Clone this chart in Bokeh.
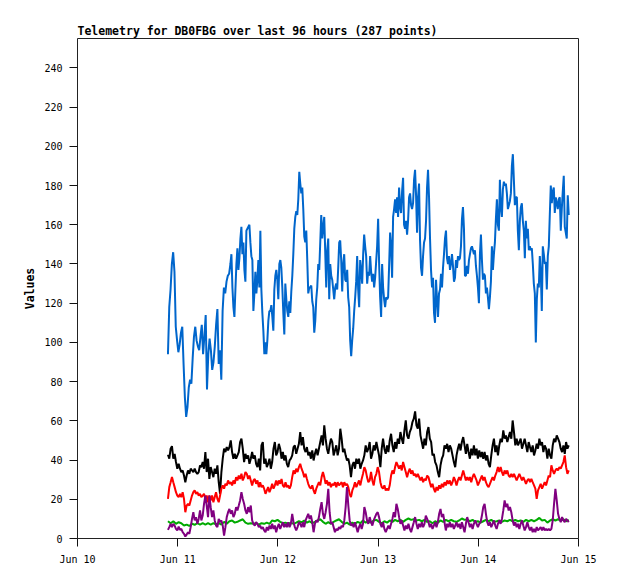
import numpy as np
from datetime import datetime, timedelta
from bokeh.plotting import figure
from bokeh.models import FixedTicker, DatetimeTickFormatter, Range1d
from bokeh.embed import file_html
from bokeh.resources import INLINE

TITLE = "Telemetry for DB0FBG over last 96 hours (287 points)"
Y_LABEL = "Values"
START = datetime(2024, 6, 10, 21, 40)
HOURS = 96
x_tick_dates = [datetime(2024, 6, d) for d in range(10, 16)]
y_ticks = list(range(0, 241, 20))

# blue series: first part read at ~19 min spacing, rest at ~14 min spacing
blue_a = [94, 118, 127, 140, 146, 136, 108, 101, 95, 99, 105, 108, 89, 72, 62, 67, 77, 81, 79, 92,
          103, 108, 101, 98, 96, 103, 109, 94, 103, 114, 76, 94, 102, 96, 86, 90, 98, 109, 117, 89,
          96, 81, 116, 128, 125, 131, 134, 135, 140]
blue_a_hours = (0.0, 14.96)
blue_b = [145, 128, 118, 113, 127, 140, 148, 137, 143, 153, 159, 145, 151, 137, 131, 157, 158, 159, 160, 151,
          144, 142, 116, 125, 136, 125, 132, 142, 128, 157, 127, 115, 106, 94, 100, 94, 101, 111, 116,
          116, 119, 113, 106, 127, 134, 137, 132, 122, 140, 142, 138, 128, 115, 104, 130, 122, 116, 113, 121,
          115, 126, 134, 145, 158, 164, 167, 165, 173, 187, 181, 176, 179, 168, 154, 151, 157, 142, 125, 128,
          128, 129, 121, 118, 105, 111, 122, 128, 140, 137, 151, 165, 153, 159, 164, 146, 128, 147, 153, 122,
          140, 134, 132, 127, 122, 128, 130, 127, 138, 151, 152, 142, 126, 140, 145, 132, 131, 137, 123, 118,
          101, 93, 101, 107, 116, 123, 131, 144, 127, 118, 142, 137, 130, 145, 155, 149, 144, 130, 136, 134,
          144, 136, 131, 135, 128, 133, 141, 149, 163, 140, 123, 113, 140, 128, 122, 118, 123, 122, 123, 139,
          156, 149, 133, 164, 168, 173, 166, 174, 164, 179, 169, 166, 177, 184, 160, 158, 162, 155, 162, 174,
          176, 170, 168, 171, 183, 188, 175, 156, 174, 181, 152, 138, 134, 144, 151, 153, 162, 179, 188, 174,
          153, 137, 128, 133, 115, 110, 132, 122, 113, 125, 127, 135, 128, 138, 145, 153, 157, 143, 140, 144,
          137, 140, 145, 139, 131, 133, 142, 138, 144, 142, 143, 149, 163, 169, 158, 134, 134, 139, 135, 142,
          145, 148, 149, 147, 145, 147, 139, 134, 128, 120, 145, 155, 142, 132, 135, 134, 125, 128, 123, 117,
          123, 131, 149, 137, 145, 151, 163, 173, 160, 157, 183, 169, 164, 178, 182, 180, 181, 176, 168, 170,
          172, 176, 190, 196, 183, 170, 174, 174, 157, 147, 162, 169, 171, 162, 157, 143, 162, 153, 158, 147,
          149, 147, 148, 140, 130, 125, 100, 122, 130, 128, 144, 135, 116, 149, 145, 140, 141, 127, 144, 149,
          165, 180, 171, 177, 179, 166, 174, 171, 168, 173, 174, 157, 168, 177, 185, 159, 156, 153, 175, 165]
blue_b_hours = (15.2, 96.0)

black = [42.7, 40.7, 45.8, 47.1, 40.7, 43.2, 39, 35.6, 38.1, 35.6, 33.9, 34.7, 32.1, 28.7, 32.1, 34.7, 33, 35.6,
         34.7, 33.9, 35.6, 33.9, 33, 33.9, 37.3, 36.4, 39, 35.6, 44.1, 33.9, 40.7, 30.4, 36.4, 33.9, 31.3, 35.6,
         33, 37.3, 28.7, 22.8, 33.9, 40.7, 45.8, 44.1, 46.6, 44.9, 46.6, 50, 44.1, 40.7, 43.2, 40.7, 42.4, 44.1,
         49.2, 50.9, 45.8, 39, 43.2, 40.7, 42.4, 38.1, 40.7, 44.1, 40.7, 42.4, 38.1, 36.4, 40.7, 34.7, 47.5, 49.2,
         38.1, 40.7, 36.4, 38.1, 40.7, 35.6, 39, 45.8, 49.2, 42.4, 44.1, 48.3, 45.8, 40.7, 44.1, 39.8, 42.4, 38.1,
         36.4, 39.8, 40.7, 42.4, 46.6, 47.5, 43.2, 45.8, 48.3, 54.3, 47.5, 51.7, 45.8, 44.1, 46.6, 42.4, 44.1, 40.7,
         44.9, 39.8, 43.2, 45.8, 42.4, 45.8, 49.2, 52.6, 47.5, 57.7, 50.9, 45.8, 43.2, 47.5, 50.9, 49.2, 42.4, 44.9,
         47.5, 42.4, 45.8, 56, 50.9, 44.1, 45.8, 42.4, 39.8, 40.7, 37.3, 31.3, 37.3, 39, 35.6, 40.7, 38.1, 40.7,
         35.6, 38.1, 39.8, 42.4, 47.5, 44.1, 45.8, 49.2,
         40.7, 43.2, 47.5, 44.9, 49.2, 45.8, 42.4, 36.4, 45.8, 50.9, 45.8, 43.2, 47.5, 44.1, 50, 53.4, 47.5, 44.1,
         49.2, 45.8, 50.9, 48.3, 54.3, 50.9, 48.3, 55.1, 60.2, 52.6, 50.9, 54.3, 56, 59.4, 61.1, 64.8, 57.7, 56,
         61.1, 52.6, 49.2, 45.8, 50.9, 47.5, 54.3, 56.8, 50.9, 49.2, 42.4, 43.2, 39, 37.3, 33.9, 31.3, 37.3, 40.7,
         42.4, 47.5, 45.8, 48.3, 44.1, 47.5, 45.8, 42.4, 39, 36.4, 42.4, 45.8, 48.3, 44.9, 49.2, 51.7, 47.5, 43.2,
         48.3, 44.1, 40.7, 45.8, 42.4, 47.5, 42.4, 45.8, 40.7, 44.9, 41.5, 44.1, 40.7, 44.1, 39.8, 42.4, 38.1, 36.4,
         42.4, 47.5, 50.9, 44.1, 47.5, 42.4, 47.5, 50.9, 49.2, 55.1, 50.9, 52.6, 49.2, 51.7, 54.3, 50.9, 60.2, 54.3,
         47.5, 50.9, 47.5, 49.2, 50.9, 45.8, 48.3, 50.9, 47.5, 44.1, 49.2, 46.6, 44.1, 47.5, 42.4, 44.9, 48.3, 45.8,
         50.9, 47.5, 49.2, 44.1, 47.5, 45.8, 40.7, 45.8, 42.4, 40.7, 47.5, 50.9, 49.2, 52.6, 50.9, 49.2, 45.8, 44.1,
         47.5, 43.2, 49.2, 45.8, 47.5]

red = [20.2, 26.2, 28.7, 31.3, 28.7, 26.2, 23.6, 21.9, 21.1, 22.8, 21.1, 23.6, 20.2, 13.4, 16.8, 17.7, 16.8, 19.4,
       21.9, 23.6, 24.5, 22.8, 23.6, 21.9, 22.8, 21.1, 21.9, 22.8, 20.2, 21.9, 18.5, 21.9, 19.4, 21.9, 18.5, 21.1,
       23.6, 20.2, 18.5, 21.9, 25.4, 27.1, 25.4, 27.9, 27.1, 29.6, 27.9, 28.7, 27.1, 29.6, 27.9, 31.3, 29.6, 32.1,
       30.4, 33, 29.6, 31.3, 33.9, 33, 30.4, 32.1, 29.6, 27.1, 29.6, 30.4, 27.9, 29.6, 26.2, 28.7, 26.2, 27.1,
       25.4, 22.8, 24.5, 26.2, 23.6, 25.4, 27.9, 25.4, 27.1, 29.6, 27.1, 29.6, 27.9, 30.4, 27.1, 26.2, 28.7, 26.2,
       27.1, 25.4, 27.1, 31.3, 34.7, 33, 35.6, 33.9, 36.4, 38.1, 35.6, 33.9, 31.3, 33, 30.4, 27.9, 26.2, 25.4,
       27.1, 24.5, 22.8, 25.4, 27.1, 28.7, 27.1, 31.3, 33.9, 31.3, 27.9, 29.6, 27.1, 28.7, 26.2, 27.9, 27.1, 28.7,
       26.2, 28.7, 27.1, 27.9, 28.7, 26.2, 28.7, 27.1, 27.9, 26.2, 22.8, 21.1, 24.5, 26.2, 28.7, 26.2, 27.9, 29.6,
       27.1, 30.4, 33, 36.4, 34.7, 31.3, 28.7,
       29.6, 33.9, 29.6, 27.1, 31.3, 33, 36.4, 33.9, 28.7, 26.2, 25.4, 27.1, 24.5, 25.4, 24.5, 27.1, 32.1, 34.7,
       33, 36.4, 39, 37.3, 35.6, 37.3, 34.7, 39, 36.4, 33.9, 31.3, 33.9, 35.6, 33, 34.7, 32.1, 33, 31.3, 33, 31.3,
       29.6, 31.3, 28.7, 30.4, 29.6, 32.1, 31.3, 28.7, 26.2, 27.9, 25.4, 23.6, 26.2, 24.5, 27.1, 25.4, 27.9, 26.2,
       28.7, 27.1, 29.6, 27.9, 29.6, 27.1, 28.7, 31.3, 29.6, 27.1, 29.6, 31.3, 29.6, 32.1, 34.7, 32.1, 29.6, 31.3,
       29.6, 31.3, 28.7, 31.3, 33, 31.3, 29.6, 27.1, 28.7, 30.4, 32.1, 29.6, 31.3, 28.7, 27.1, 26.2, 27.9, 29.6,
       31.3, 29.6, 32.1, 33.9, 36.4, 33.9, 36.4, 33.9, 32.1, 34.7, 33, 34.7, 32.1, 31.3, 33, 31.3, 33, 31.3, 29.6,
       31.3, 33, 31.3, 29.6, 31.3, 29.6, 27.9, 29.6, 30.4, 28.7, 30.4, 28.7, 27.1, 25.4, 20.2, 24.5, 26.2, 27.9,
       25.4, 27.1, 28.7, 27.1, 29.6, 32.1, 31.3, 37.3, 34.7, 33, 34.7, 35.6, 34.7, 36.4, 35.6, 37.3, 39, 42.4,
       36.4, 33, 34.7]

green = [8.8, 7.8, 8.8, 7.5, 8.3, 7.8, 6.6, 7.1, 6.4, 7.5, 7.0, 7.8, 7.1, 7.8, 7.1, 7.8, 7.1, 7.8, 7.3, 7.8,
         7.1, 8.5, 7.5, 8.8, 9.2, 8.1, 8.5, 9.2, 9.8, 8.1, 7.5, 7.8, 7.5, 7.8, 7.1, 7.8, 7.5, 8.1, 7.5, 9.2,
         8.8, 9.5, 8.5, 7.8, 8.1, 7.5, 8.1, 7.5, 8.1, 8.8, 8.3, 9.2, 8.1, 8.8, 7.8, 8.5, 9.2, 9.8, 8.5, 7.5,
         8.3, 7.5, 8.5, 9.2, 9.8, 8.5, 7.5, 8.1, 7.1, 8.1, 7.5, 8.5, 7.8, 9.2, 8.1, 8.8,
         8.1, 9.2, 9.5, 8.5, 7.8, 8.8, 8.1, 9.2, 8.5, 9.5, 8.8, 9.5, 8.5, 9.5, 10.2, 9.5, 9.8, 9.2, 9.5, 8.8,
         9.5, 8.5, 8.8, 7.8, 8.8, 8.1, 9.2, 8.5, 9.5, 8.8, 9.5, 8.8, 8.5, 9.2, 10.2, 9.5, 9.8, 8.8, 9.5, 8.5,
         8.8, 8.1, 8.8, 9.5, 8.8, 9.5, 8.5, 8.8, 9.2, 8.5, 9.2, 8.8, 9.5, 8.8, 9.5, 8.8, 9.2, 8.5, 9.5, 8.8,
         9.5, 8.8, 9.5, 10.5, 9.2, 9.5, 8.1, 9.2, 9.8, 9.2, 9.8, 9.2, 9.8, 8.8, 9.5]

purple = [4.4, 5.8, 7.5, 5.8, 7.5, 6.6, 4.9, 4.1, 6.1, 4.4, 4.9, 3.2, 2.4, 1.0, 2.0, 3.2, 2.4, 5.8, 10.0, 13.4,
          9.2, 10.9, 7.5, 10.0, 14.3, 9.2, 11.7, 17.7, 21.9, 16.8, 10.9, 21.9, 16.0, 10.9, 14.3, 9.2, 6.6, 5.8,
          10.0, 8.3, 9.2, 6.6, 1.5, 5.8, 10.9, 13.4, 15.1, 12.6, 14.3, 10.9, 12.6, 16.0, 14.3, 16.8, 19.4, 23.6,
          20.2, 17.7, 14.3, 12.6, 16.0, 13.4, 16.8, 9.2, 7.5, 6.6, 8.3, 7.5, 5.8, 6.6, 4.9, 5.8, 4.1, 3.2, 5.8,
          4.1, 6.6, 4.9, 7.5, 4.9, 6.6, 3.2, 5.8, 7.5, 4.9, 6.6, 8.3, 5.8, 7.5, 5.8, 8.3, 5.8, 7.5, 12.6, 8.3,
          5.8, 4.1, 5.8, 8.3, 7.5, 5.8, 8.3, 5.8, 9.2, 10.9, 12.6, 10.0, 11.7, 8.3, 3.2, 7.5, 9.2, 8.3, 10.9,
          15.1, 18.5, 12.6, 10.0, 13.4, 17.7, 25.3, 13.4, 7.5, 8.3, 5.8, 3.2, 4.9, 4.1, 5.8, 4.9, 6.6, 5.8, 9.2,
          16.0, 26.2, 16.8, 9.2, 6.6, 7.5, 5.8, 8.3, 5.8, 3.2, 5.8, 7.5, 4.9, 7.5, 16.0, 13.4, 9.2, 7.5,
          10.9, 8.3, 6.6, 9.2, 10.9, 12.6, 13.4, 10.9, 7.5, 5.8, 8.3, 4.9, 3.2, 4.9, 6.6, 4.9, 7.5, 10.0, 13.4,
          10.9, 17.7, 15.1, 10.9, 7.5, 9.2, 6.6, 4.1, 6.6, 4.9, 7.5, 4.9, 3.2, 5.8, 8.3, 10.9, 7.5, 4.9, 7.5,
          5.8, 8.3, 5.8, 7.5, 11.7, 10.0, 8.3, 5.8, 7.5, 4.9, 6.6, 8.3, 5.8, 8.3, 12.6, 15.1, 10.9, 12.6, 8.3,
          4.1, 7.5, 5.8, 8.3, 5.8, 7.5, 4.9, 6.6, 8.3, 5.8, 7.5, 4.9, 8.3, 5.8, 3.2, 7.5, 10.9, 8.3, 5.8, 7.5,
          4.9, 7.5, 9.2, 7.5, 5.8, 7.5, 8.3, 11.7, 16.0, 17.7, 12.6, 8.3, 6.6, 8.3, 5.8, 7.5, 9.2, 6.6, 4.9,
          7.5, 9.2, 7.5, 10.0, 14.3, 19.4, 16.0, 17.7, 14.3, 16.0, 13.4, 9.2, 6.6, 8.3, 5.8, 7.5, 4.9, 7.5, 9.2,
          6.6, 4.1, 5.8, 8.3, 5.8, 4.1, 5.8, 3.2, 4.9, 3.2, 5.8, 4.1, 4.9, 5.8, 4.1, 5.8, 4.1, 4.9, 4.1, 4.9,
          4.1, 4.9, 9.2, 17.7, 25.3, 19.4, 12.6, 10.0, 8.3, 10.9, 9.2, 8.3, 10.0, 9.2, 8.3]

series = [
    ("blue", "#0066cc"),
    ("black", "#000000"),
    ("red", "#ff0000"),
    ("green", "#00aa00"),
    ("purple", "#800080"),
]


def times(n, h0=0.0, h1=float(HOURS)):
    return [START + timedelta(hours=float(h)) for h in np.linspace(h0, h1, n)]


blue_t = times(len(blue_a), *blue_a_hours) + times(len(blue_b), *blue_b_hours)
data = {
    "blue": (blue_t, blue_a + blue_b),
    "black": (times(len(black)), black),
    "red": (times(len(red)), red),
    "green": (times(len(green)), green),
    "purple": (times(len(purple)), purple),
}

p = figure(width=602, height=571, output_backend="svg", toolbar_location=None,
           x_axis_type="datetime",
           x_range=Range1d(x_tick_dates[0], x_tick_dates[-1]),
           y_range=Range1d(0, 255),
           min_border_left=77, min_border_right=24, min_border_top=38, min_border_bottom=33)

for name, color in series:
    xs, ys = data[name]
    p.line(xs, ys, line_color=color, line_width=2)

p.title.text = TITLE
p.title.text_font = "DejaVu Sans Mono"
p.title.text_font_size = "11.5px"
p.title.text_font_style = "bold"
p.title.text_color = "#000000"
p.title.align = "left"
p.title.offset = 0
p.title.standoff = 2

p.xgrid.grid_line_color = None
p.ygrid.grid_line_color = None
p.outline_line_color = "#222222"
p.outline_line_width = 1

p.xaxis.ticker = FixedTicker(ticks=[d.timestamp() * 1000 for d in x_tick_dates])
fmt = "%b %d"
p.xaxis.formatter = DatetimeTickFormatter(days=fmt, months=fmt, hours=fmt, minutes=fmt,
                                          hourmin=fmt, years=fmt)
p.yaxis.ticker = FixedTicker(ticks=y_ticks)

for ax in (p.xaxis[0], p.yaxis[0]):
    ax.axis_line_color = None
    ax.major_tick_line_color = "#111111"
    ax.major_tick_out = 8
    ax.major_tick_in = 0
    ax.minor_tick_line_color = None
    ax.major_label_text_font = "DejaVu Sans Mono"
    ax.major_label_text_font_size = "10px"
    ax.major_label_text_color = "#000000"
    ax.major_label_standoff = 7

p.yaxis.axis_label = Y_LABEL
p.yaxis.axis_label_text_font = "DejaVu Sans Mono"
p.yaxis.axis_label_text_font_size = "11.5px"
p.yaxis.axis_label_text_font_style = "bold"
p.yaxis.axis_label_text_color = "#000000"
p.yaxis.axis_label_standoff = 4

open("out.html", "w").write(file_html(p, INLINE))
